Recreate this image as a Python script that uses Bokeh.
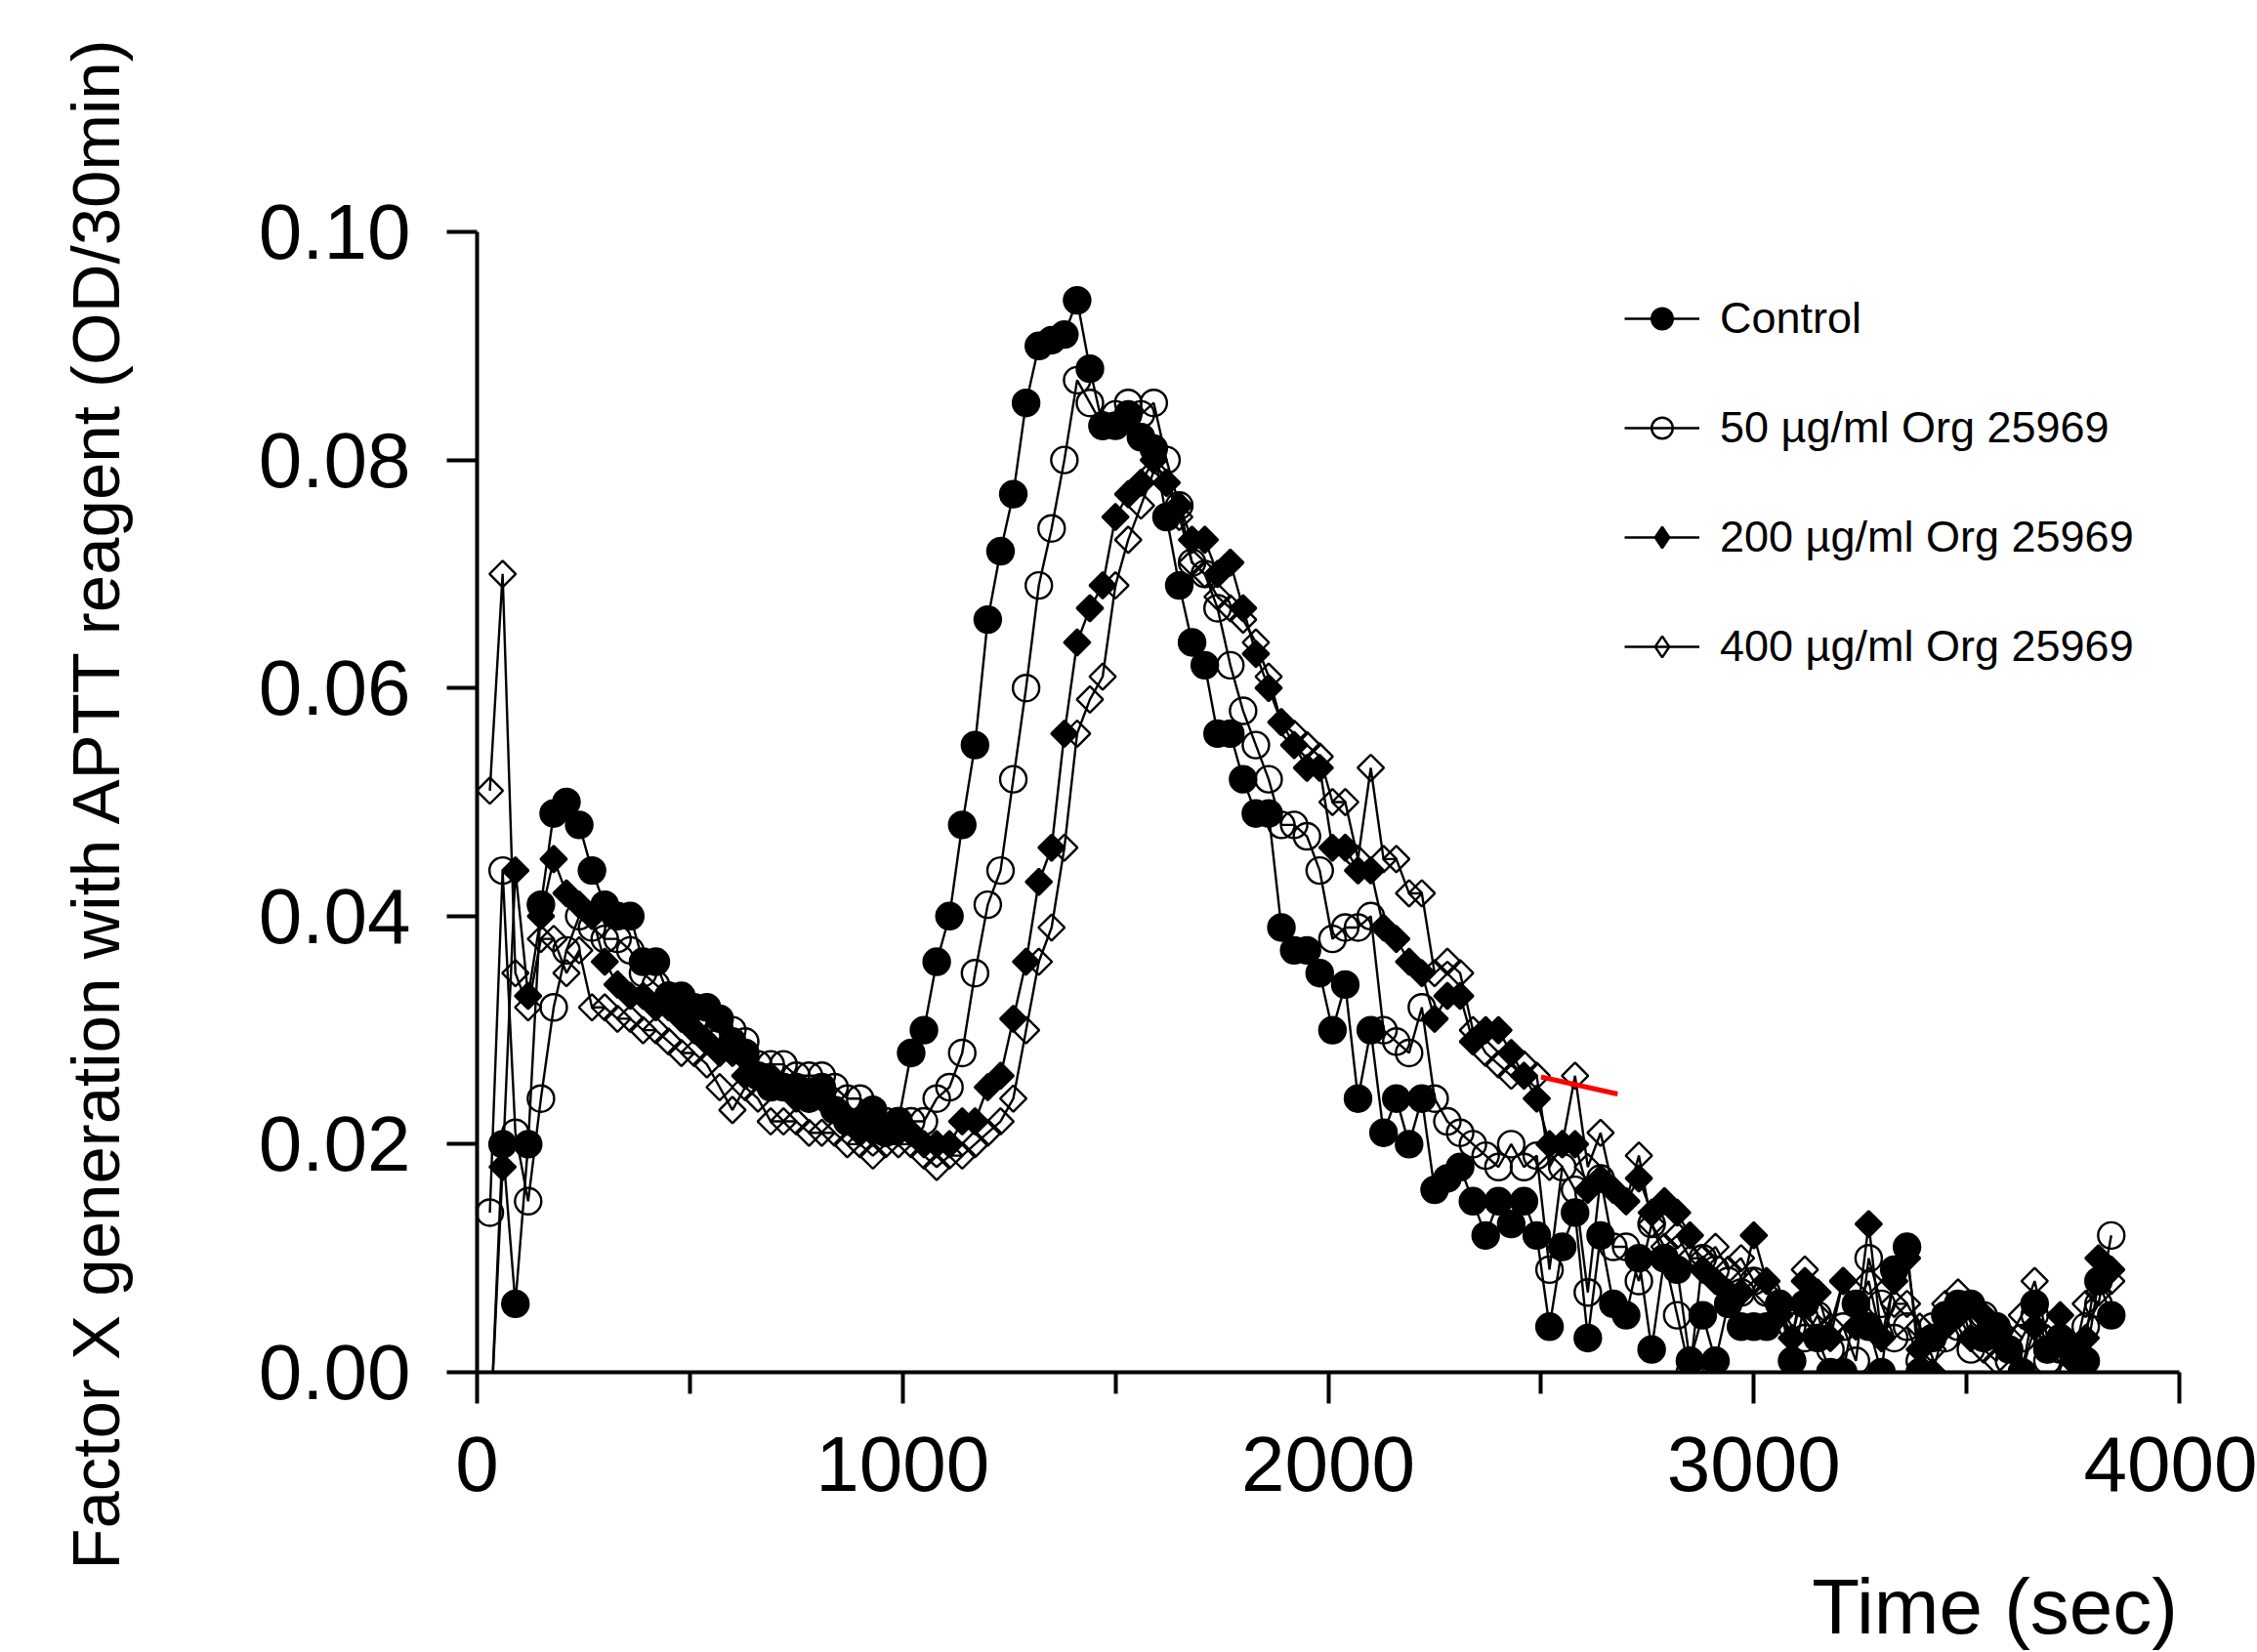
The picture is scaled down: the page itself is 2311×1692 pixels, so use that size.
import numpy as np
from bokeh.plotting import figure
from bokeh.models import (Range1d, FixedTicker, NumeralTickFormatter, Legend, LegendItem,
                          ColumnDataSource, CDSView, IndexFilter, Title)
from bokeh.embed import file_html
from bokeh.resources import INLINE

# ---------------- data ----------------
time_sec = list(range(30, 3841, 30))

control = [
    -0.006, 0.020, 0.006, 0.020, 0.041, 0.049, 0.050, 0.048, 0.044, 0.041,
    0.040, 0.040, 0.036, 0.036, 0.033, 0.033, 0.032, 0.032, 0.031, 0.029,
    0.028, 0.026, 0.025, 0.025, 0.025, 0.024, 0.025, 0.023, 0.022, 0.022,
    0.023, 0.021, 0.022, 0.028, 0.030, 0.036, 0.040, 0.048, 0.055, 0.066,
    0.072, 0.077, 0.085, 0.090, 0.0905, 0.091, 0.094, 0.088, 0.083, 0.083,
    0.084, 0.082, 0.081, 0.075, 0.069, 0.064, 0.062, 0.056, 0.056, 0.052,
    0.049, 0.049, 0.039, 0.037, 0.037, 0.035, 0.030, 0.034, 0.024, 0.030,
    0.021, 0.024, 0.020, 0.024, 0.016, 0.017, 0.018, 0.015, 0.012, 0.015,
    0.013, 0.015, 0.012, 0.004, 0.011, 0.014, 0.003, 0.012, 0.006, 0.005,
    0.010, 0.002, 0.010, 0.009, 0.001, 0.005, 0.001, 0.006, 0.004, 0.004,
    0.004, 0.006, 0.001, 0.006, 0.003, 0.000, 0.000, 0.006, 0.004, 0.000,
    0.009, 0.011, 0.000, 0.003, 0.005, 0.006, 0.006, 0.003, 0.004, 0.002,
    0.000, 0.006, 0.002, 0.003, 0.002, 0.001, 0.008, 0.005,
]

org_50 = [
    0.014, 0.044, 0.021, 0.015, 0.024, 0.032, 0.037, 0.040, 0.039, 0.038,
    0.038, 0.037, 0.035, 0.034, 0.033, 0.032, 0.031, 0.031, 0.030, 0.030,
    0.029, 0.027, 0.027, 0.027, 0.026, 0.026, 0.026, 0.025, 0.024, 0.024,
    0.023, 0.022, 0.022, 0.022, 0.022, 0.024, 0.025, 0.028, 0.035, 0.041,
    0.044, 0.052, 0.060, 0.069, 0.074, 0.080, 0.087, 0.085, 0.083, 0.084,
    0.085, 0.084, 0.085, 0.080, 0.076, 0.071, 0.070, 0.067, 0.062, 0.058,
    0.055, 0.052, 0.048, 0.048, 0.047, 0.044, 0.038, 0.039, 0.039, 0.040,
    0.030, 0.029, 0.028, 0.032, 0.024, 0.022, 0.021, 0.020, 0.019, 0.018,
    0.020, 0.018, 0.019, 0.009, 0.018, 0.016, 0.007, 0.017, 0.011, 0.011,
    0.008, 0.013, 0.010, 0.005, 0.000, 0.010, 0.009, 0.008, 0.007, 0.008,
    0.007, 0.006, 0.004, 0.003, 0.005, 0.002, 0.004, 0.001, 0.010, 0.006,
    0.003, 0.004, 0.001, 0.004, 0.003, 0.004, 0.002, 0.005, 0.004, 0.001,
    0.003, 0.005, 0.001, 0.002, 0.000, 0.004, 0.006, 0.012,
]

org_200 = [
    -0.006, 0.018, 0.044, 0.033, 0.040, 0.045, 0.042, 0.041, 0.040, 0.036,
    0.034, 0.033, 0.033, 0.032, 0.032, 0.031, 0.030, 0.029, 0.028, 0.028,
    0.026, 0.026, 0.026, 0.025, 0.024, 0.024, 0.024, 0.023, 0.022, 0.021,
    0.021, 0.021, 0.021, 0.021, 0.020, 0.020, 0.020, 0.022, 0.022, 0.025,
    0.026, 0.031, 0.036, 0.043, 0.046, 0.056, 0.064, 0.067, 0.069, 0.075,
    0.077, 0.078, 0.080, 0.078, 0.076, 0.073, 0.073, 0.070, 0.071, 0.067,
    0.063, 0.060, 0.057, 0.055, 0.053, 0.053, 0.046, 0.046, 0.044, 0.044,
    0.039, 0.038, 0.036, 0.035, 0.031, 0.033, 0.033, 0.029, 0.030, 0.030,
    0.028, 0.026, 0.024, 0.020, 0.020, 0.020, 0.016, 0.017, 0.016, 0.015,
    0.017, 0.014, 0.015, 0.014, 0.012, 0.009, 0.008, 0.007, 0.007, 0.012,
    0.008, 0.005, 0.003, 0.008, 0.007, 0.003, 0.008, 0.004, 0.013, 0.003,
    0.008, 0.010, 0.002, 0.000, 0.004, 0.005, 0.003, 0.005, 0.003, 0.002,
    0.000, 0.004, 0.002, 0.005, 0.001, 0.003, 0.010, 0.009,
]

org_400 = [
    0.051, 0.070, 0.035, 0.032, 0.038, 0.038, 0.035, 0.037, 0.032, 0.032,
    0.031, 0.031, 0.030, 0.030, 0.029, 0.028, 0.028, 0.027, 0.025, 0.023,
    0.025, 0.024, 0.022, 0.022, 0.022, 0.021, 0.021, 0.021, 0.020, 0.020,
    0.019, 0.020, 0.020, 0.020, 0.019, 0.018, 0.019, 0.019, 0.020, 0.021,
    0.022, 0.024, 0.030, 0.036, 0.039, 0.046, 0.056, 0.059, 0.061, 0.069,
    0.073, 0.076, 0.079, 0.078, 0.075, 0.071, 0.070, 0.068, 0.067, 0.066,
    0.064, 0.061, 0.057, 0.056, 0.055, 0.054, 0.050, 0.050, 0.045, 0.053,
    0.045, 0.045, 0.042, 0.042, 0.035, 0.036, 0.035, 0.030, 0.028, 0.027,
    0.026, 0.027, 0.026, 0.018, 0.020, 0.026, 0.018, 0.021, 0.016, 0.015,
    0.019, 0.013, 0.011, 0.012, 0.010, 0.010, 0.011, 0.009, 0.010, 0.008,
    0.007, 0.006, 0.003, 0.009, 0.005, 0.004, 0.008, 0.006, 0.008, 0.003,
    0.006, 0.006, 0.004, 0.002, 0.006, 0.007, 0.003, 0.002, 0.001, 0.003,
    0.005, 0.008, 0.003, 0.002, 0.001, 0.006, 0.007, 0.008,
]

series_labels = ["Control", "50 µg/ml Org 25969", "200 µg/ml Org 25969", "400 µg/ml Org 25969"]
x_title = "Time (sec)"
y_title = "Factor X generation with APTT reagent (OD/30min)"
x_ticks = [0, 1000, 2000, 3000, 4000]
x_minor_ticks = [500, 1500, 2500, 3500]
y_ticks = [0.0, 0.02, 0.04, 0.06, 0.08, 0.10]
mark_x = [2500, 2680]
mark_y = [0.0259, 0.0244]

FONT = "Liberation Sans"
SHIFT = 75   # canvas extends this far left of the page edge (room for the y title)

# ---------------- figure ----------------
p = figure(width=2311 + SHIFT, height=1692, output_backend="svg", toolbar_location=None,
           x_range=Range1d(0, 4000), y_range=Range1d(0, 0.1),
           min_border_left=488 + SHIFT, min_border_right=80, min_border_top=237,
           min_border_bottom=287)
p.styles = {"margin-left": f"-{SHIFT}px"}
p.xgrid.visible = False
p.ygrid.visible = False
p.outline_line_color = None
p.background_fill_color = "white"
p.border_fill_color = "white"

xa = p.xaxis[0]
xa.ticker = FixedTicker(ticks=x_ticks, minor_ticks=x_minor_ticks)
xa.axis_line_width = 4
xa.axis_line_color = "black"
xa.major_tick_line_width = 4
xa.minor_tick_line_width = 4
xa.major_tick_out = 32
xa.major_tick_in = 0
xa.minor_tick_out = 22
xa.minor_tick_in = 0
xa.major_label_text_font = FONT
xa.major_label_text_font_size = "80px"
xa.major_label_text_color = "black"
xa.major_label_standoff = 34

# axis title sits at the end of the axis; trailing no-break spaces make its
# visible text end at the axis end (right-aligned, as in the original)
xa.axis_label = x_title + "\u00a0" * 17
xa.axis_label_align = "end"
xa.axis_label_standoff = 71
xa.axis_label_text_font = FONT
xa.axis_label_text_font_size = "80px"
xa.axis_label_text_font_style = "normal"
xa.axis_label_text_color = "black"

ya = p.yaxis[0]
ya.ticker = FixedTicker(ticks=y_ticks, minor_ticks=[])
ya.formatter = NumeralTickFormatter(format="0.00")
ya.axis_line_width = 4
ya.axis_line_color = "black"
ya.major_tick_line_width = 4
ya.major_tick_out = 31
ya.major_tick_in = 0
ya.minor_tick_out = 0
ya.minor_tick_in = 0
ya.major_label_text_font = FONT
ya.major_label_text_font_size = "80px"
ya.major_label_text_color = "black"
ya.major_label_standoff = 37

src = ColumnDataSource(dict(t=time_sec, c0=control, c50=org_50, c200=org_200, c400=org_400))

LW = 2.4
l0 = p.line("t", "c0", source=src, line_color="black", line_width=LW)
s0 = p.scatter("t", "c0", source=src, marker="circle", size=27,
               fill_color="black", line_color="black", line_width=LW)
l1 = p.line("t", "c50", source=src, line_color="black", line_width=LW)
s1 = p.scatter("t", "c50", source=src, marker="circle", size=27,
               fill_color=None, line_color="black", line_width=LW)
l2 = p.line("t", "c200", source=src, line_color="black", line_width=LW)
s2 = p.scatter("t", "c200", source=src, marker="square", angle=np.pi / 4, size=19,
               fill_color="black", line_color="black", line_width=LW)
l3 = p.line("t", "c400", source=src, line_color="black", line_width=LW)
s3 = p.scatter("t", "c400", source=src, marker="square", angle=np.pi / 4, size=19,
               fill_color=None, line_color="black", line_width=LW)

p.line(mark_x, mark_y, line_color="red", line_width=5)

# legend symbols for the diamond series: one point each, drawn tiny on the
# line vertex (hidden under the real marker); the legend sizes it itself.
d2 = p.scatter("t", "c200", source=src, view=CDSView(filter=IndexFilter(indices=[60])),
               marker="diamond", size=0.5,
               fill_color="black", line_color="black", line_width=LW)
d3 = p.scatter("t", "c400", source=src, view=CDSView(filter=IndexFilter(indices=[60])),
               marker="diamond", size=0.5,
               fill_color=None, line_color="black", line_width=LW)

legend = Legend(items=[
    LegendItem(label=series_labels[0], renderers=[l0, s0]),
    LegendItem(label=series_labels[1], renderers=[l1, s1]),
    LegendItem(label=series_labels[2], renderers=[l2, d2]),
    LegendItem(label=series_labels[3], renderers=[l3, d3]),
], location=(1175, 716), orientation="vertical",
    glyph_width=77, glyph_height=54, label_height=54, label_standoff=21,
    spacing=58, padding=0, margin=0, border_line_color=None,
    background_fill_alpha=0, label_text_font=FONT, label_text_font_size="45px",
    label_text_color="black")
p.add_layout(legend)

ytitle = Title(text=y_title, align="center", standoff=250, text_font=FONT,
               text_font_size="69px", text_font_style="normal", text_color="black")
p.add_layout(ytitle, "left")

open("out.html", "w").write(file_html(p, INLINE))
